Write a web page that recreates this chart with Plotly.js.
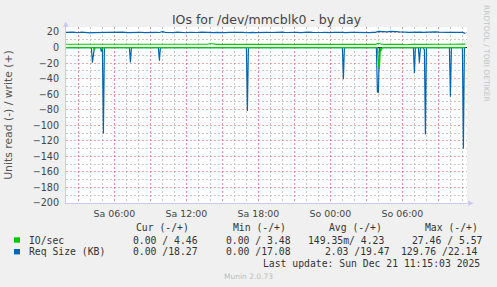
<!DOCTYPE html>
<html>
<head>
<meta charset="utf-8">
<script src="https://cdn.plot.ly/plotly-3.0.1.min.js"></script>
<style>
html,body{margin:0;padding:0;background:#f0f0f0;}
#chart{width:497px;height:287px;}
</style>
</head>
<body>
<div id="chart"></div>
<script>
// ---- data ----
const SERIES_START = '2025-12-20 01:45';
const SERIES_STEP_MIN = 15;

// write (+) Req Size (KB), 15-min samples
const reqSizeWrite = [
  19.4, 19.7, 19.2, 19.8, 19.5, 19.1, 19.9, 19.3, 19.6, 19.0, 19.2, 19.3, 19.3, 19.4, 19.2, 19.5, 19.3,
  19.6, 19.1, 19.4, 19.8, 19.3, 19.5, 19.0, 19.6, 19.4, 19.7, 19.2, 19.5, 19.9, 19.3, 19.6, 19.4,
  20.6, 19.5, 19.2, 19.6, 19.3, 19.8, 19.4, 19.5, 19.1, 19.7, 19.3, 19.6, 19.4, 19.8, 19.5, 19.2,
  19.6, 19.3, 19.7, 19.4, 19.9, 19.2, 19.5, 19.6, 19.3, 19.8, 19.4, 19.6, 19.1, 19.5, 19.7, 19.3,
  19.5, 19.8, 19.2, 19.6, 19.4, 19.7, 19.3, 19.5, 19.9, 19.4, 19.6, 19.2, 19.7, 19.5, 19.3, 19.6,
  19.4, 19.8, 19.5, 19.2, 19.7, 19.4, 19.6, 19.9, 19.3, 19.5, 19.7, 19.4, 19.6, 19.3, 19.8, 19.5,
  19.6, 19.4, 19.8, 19.5, 19.7, 19.3, 19.6, 19.5, 20.8, 20.4, 20.6, 20.2, 20.9, 20.3, 20.5, 20.1,
  20.3, 19.8, 19.6, 19.9, 20.1, 19.7, 19.9, 19.6, 19.8, 20.4, 20.6, 20.2, 19.9, 19.6, 19.8, 19.5,
  19.7, 19.5, 19.8, 19.4, 19.6, 18.3
];

// write (+) IO/sec, 15-min samples
const ioWrite = [
  4.3, 4.3, 4.2, 4.3, 3.6, 4.3, 4.3, 4.2, 3.7, 4.3, 4.3, 4.2, 4.3, 3.6, 4.3, 4.3, 4.2,
  4.3, 4.3, 3.7, 4.3, 4.2, 4.3, 3.6, 4.3, 4.3, 4.3, 4.2, 4.3, 3.7, 4.3, 4.3, 4.2,
  4.3, 4.2, 4.3, 4.3, 4.3, 3.7, 4.3, 4.3, 4.2, 4.3, 4.3, 4.3, 4.2, 4.3, 4.3, 4.3,
  5.2, 4.3, 4.2, 4.3, 4.3, 4.3, 3.6, 4.3, 4.3, 4.2, 4.3, 4.3, 4.3, 4.2, 3.7, 4.3,
  4.3, 4.3, 4.2, 4.3, 4.3, 4.3, 3.7, 4.3, 4.3, 4.2, 4.3, 4.3, 4.3, 4.2, 4.3, 4.3,
  4.3, 4.2, 4.3, 4.3, 3.7, 4.3, 4.3, 4.2, 4.3, 4.3, 4.3, 4.2, 4.3, 4.3, 4.3, 4.2,
  4.3, 4.3, 4.3, 3.6, 4.3, 4.3, 4.3, 4.2, 5.5, 4.3, 4.2, 4.3, 4.3, 4.3, 4.2, 4.3,
  4.3, 3.7, 4.3, 4.3, 4.2, 4.3, 4.3, 3.8, 4.3, 4.3, 4.2, 4.3, 4.3, 4.2, 4.3, 4.3,
  4.3, 4.2, 4.3, 4.3, 4.3, 4.46
];

// read (-) Req Size (KB): sparse 5-min samples (zeros elsewhere)
const reqSizeReadTimes = [
  '2025-12-20 01:45',
  '2025-12-20 04:05','2025-12-20 04:10','2025-12-20 04:15','2025-12-20 04:20',
  '2025-12-20 04:50','2025-12-20 04:55','2025-12-20 05:00','2025-12-20 05:05','2025-12-20 05:10',
  '2025-12-20 07:15','2025-12-20 07:20','2025-12-20 07:25',
  '2025-12-20 09:40','2025-12-20 09:45','2025-12-20 09:50',
  '2025-12-20 17:00','2025-12-20 17:05','2025-12-20 17:10',
  '2025-12-21 01:00','2025-12-21 01:05','2025-12-21 01:10',
  '2025-12-21 03:50','2025-12-21 03:55','2025-12-21 04:00','2025-12-21 04:05','2025-12-21 04:10','2025-12-21 04:15','2025-12-21 04:20',
  '2025-12-21 06:55','2025-12-21 07:00','2025-12-21 07:05',
  '2025-12-21 07:20','2025-12-21 07:25','2025-12-21 07:30',
  '2025-12-21 07:45','2025-12-21 07:50','2025-12-21 07:55','2025-12-21 08:00',
  '2025-12-21 09:55','2025-12-21 10:00','2025-12-21 10:05',
  '2025-12-21 11:00','2025-12-21 11:05','2025-12-21 11:10','2025-12-21 11:15'
];
const reqSizeReadValues = [
  0,
  0, 19.3, 6, 0,
  0, 5, 0, 110.5, 0,
  0, 19, 0,
  0, 16.8, 0,
  0, 81.7, 0,
  0, 40.8, 0,
  0, 57, 57.6, 0, 5, 2, 0,
  0, 33, 0,
  0, 19.3, 0,
  0, 3, 111.8, 0,
  0, 63.2, 0,
  0, 129.8, 0, 0
];

// read (-) IO/sec: sparse 5-min samples
const ioReadTimes = [
  '2025-12-20 01:45',
  '2025-12-20 04:15','2025-12-20 04:20','2025-12-20 04:25',
  '2025-12-20 04:55','2025-12-20 05:00','2025-12-20 05:05',
  '2025-12-21 03:55','2025-12-21 04:00','2025-12-21 04:05','2025-12-21 04:10','2025-12-21 04:15','2025-12-21 04:20',
  '2025-12-21 11:15'
];
const ioReadValues = [
  0,
  0, 3, 0,
  0, 2, 0,
  0, 20, 27.5, 0, 3, 0,
  0
];

const xTickVals = [
  '2025-12-20 03:00','2025-12-20 06:00','2025-12-20 09:00','2025-12-20 12:00',
  '2025-12-20 15:00','2025-12-20 18:00','2025-12-20 21:00','2025-12-21 00:00',
  '2025-12-21 03:00','2025-12-21 06:00','2025-12-21 09:00'
];
const xTickText = ['', 'Sa 06:00', '', 'Sa 12:00', '', 'Sa 18:00', '', 'So 00:00', '', 'So 06:00', ''];

const legendHeaders = ['Cur (-/+)', 'Min (-/+)', 'Avg (-/+)', 'Max (-/+)'];
const legendNames = ['IO/sec', 'Req Size (KB)'];
const legendIO = ['0.00 / 4.46', '0.00 / 3.48', '149.35m/ 4.23', '27.46 / 5.57'];
const legendReq = ['0.00 /18.27', '0.00 /17.08', '2.03 /19.47', '129.76 /22.14'];

// ---- build ----
const startMs = Date.parse(SERIES_START.replace(' ', 'T') + ':00Z');
const fmt = ms => new Date(ms).toISOString().slice(0, 16).replace('T', ' ');
const writeTimes = reqSizeWrite.map((_, i) => fmt(startMs + i * SERIES_STEP_MIN * 60000));

const GREEN = '#00CC00', BLUE = '#0066B3';
const negate = a => a.map(v => -v);

const traces = [
  {x: reqSizeReadTimes, y: negate(reqSizeReadValues), type: 'scatter', mode: 'lines',
   line: {color: BLUE, width: 1.2}, hoverinfo: 'skip'},
  {x: ioReadTimes, y: negate(ioReadValues), type: 'scatter', mode: 'lines',
   line: {color: GREEN, width: 1.2}, hoverinfo: 'skip'},
  {x: writeTimes, y: reqSizeWrite, type: 'scatter', mode: 'lines',
   line: {color: BLUE, width: 1.2}, hoverinfo: 'skip'},
  {x: writeTimes, y: ioWrite, type: 'scatter', mode: 'lines',
   line: {color: GREEN, width: 1.1}, hoverinfo: 'skip'}
];

// plot area in pixels: x 66..467, y 27..203
const PL = 66, PR = 467, PT = 27, PB = 203;
const px = x => (x - PL) / (PR - PL);
const py = y => (PB - y) / (PB - PT);

const MONO = 'DejaVu Sans Mono, monospace';
const SANS = 'DejaVu Sans, sans-serif';
const annotations = [];
function txt(x, y, text, opts) {
  annotations.push(Object.assign({
    x: px(x), y: py(y), xref: 'paper', yref: 'paper', text: text, showarrow: false,
    xanchor: 'left', yanchor: 'middle',
    font: {family: MONO, size: 9.75, color: '#333'}
  }, opts || {}));
}
const headerX = [134.3, 230.7, 327.3, 423.3];
legendHeaders.forEach((h, i) => txt(headerX[i], 227.3, h));
txt(26.7, 240, legendNames[0]);
txt(26.7, 251.7, legendNames[1]);
const ioX = [131, 224, 305.7, 410.2];
const reqX = [131, 224, 323.3, 398.5];
legendIO.forEach((t, i) => txt(ioX[i], 240, t));
legendReq.forEach((t, i) => txt(reqX[i], 251.7, t));
txt(482.3, 263.3, 'Last update: Sun Dec 21 11:15:03 2025', {xanchor: 'right'});
txt(248, 276, 'Munin 2.0.73', {xanchor: 'center', font: {family: SANS, size: 7.5, color: '#bbbbbb'}});
txt(487, 53, 'RRDTOOL / TOBI OETIKER', {xanchor: 'center', textangle: 90, font: {family: SANS, size: 7.5, color: '#c4c4c4'}});
// axis arrows
txt(66, 23.5, '▲', {xanchor: 'center', font: {family: SANS, size: 7, color: '#c8c8f0'}});
txt(471, 203, '▶', {xanchor: 'center', font: {family: SANS, size: 7, color: '#c8c8f0'}});

const shapes = [
  {type: 'rect', xref: 'paper', yref: 'paper', x0: px(14), x1: px(20), y0: py(242.7), y1: py(237.3),
   fillcolor: GREEN, line: {width: 0}},
  {type: 'rect', xref: 'paper', yref: 'paper', x0: px(14), x1: px(20), y0: py(254.4), y1: py(249),
   fillcolor: BLUE, line: {width: 0}}
];

const RED_GRID = 'rgba(235,110,110,0.6)';
const GREY_GRID = '#c8c8c8';
const DOTS = '2px,2px';

const layout = {
  width: 497, height: 287,
  margin: {l: PL, r: 497 - PR, t: PT, b: 287 - PB, autoexpand: false},
  paper_bgcolor: '#f0f0f0', plot_bgcolor: '#ffffff',
  showlegend: false,
  title: {text: 'IOs for /dev/mmcblk0 - by day', x: 0.5, xanchor: 'center', xref: 'paper',
          y: 1 - 20 / 287, yref: 'container', yanchor: 'middle',
          font: {family: SANS, size: 12.5, color: '#444'}},
  xaxis: {
    type: 'date', range: ['2025-12-20 01:58', '2025-12-21 11:23'],
    tickmode: 'array', tickvals: xTickVals, ticktext: xTickText,
    ticks: '', showgrid: true, gridcolor: RED_GRID, griddash: DOTS, gridwidth: 1,
    minor: {dtick: 3600000, tick0: '2025-12-20 00:00', showgrid: true, gridcolor: GREY_GRID, griddash: DOTS, gridwidth: 1},
    showline: true, linecolor: '#c8c8f0', linewidth: 1,
    zeroline: false, ticklabelstandoff: 2,
    tickfont: {family: SANS, size: 9.4, color: '#444'}
  },
  yaxis: {
    range: [-200, 26.5], tickmode: 'linear', tick0: 0, dtick: 20,
    ticks: '', showgrid: true, gridcolor: RED_GRID, griddash: DOTS, gridwidth: 1,
    minor: {dtick: 10, tick0: 0, showgrid: true, gridcolor: GREY_GRID, griddash: DOTS, gridwidth: 1},
    showline: true, linecolor: '#c8c8f0', linewidth: 1,
    zeroline: true, zerolinecolor: '#000000', zerolinewidth: 1,
    ticklabelstandoff: 4,
    tickfont: {family: SANS, size: 9.6, color: '#444'},
    title: {text: 'Units read (-) / write (+)', standoff: 17, font: {family: SANS, size: 10.8, color: '#555'}}
  },
  annotations: annotations,
  shapes: shapes
};

Plotly.newPlot('chart', traces, layout, {displayModeBar: false, staticPlot: true});
</script>
</body>
</html>
